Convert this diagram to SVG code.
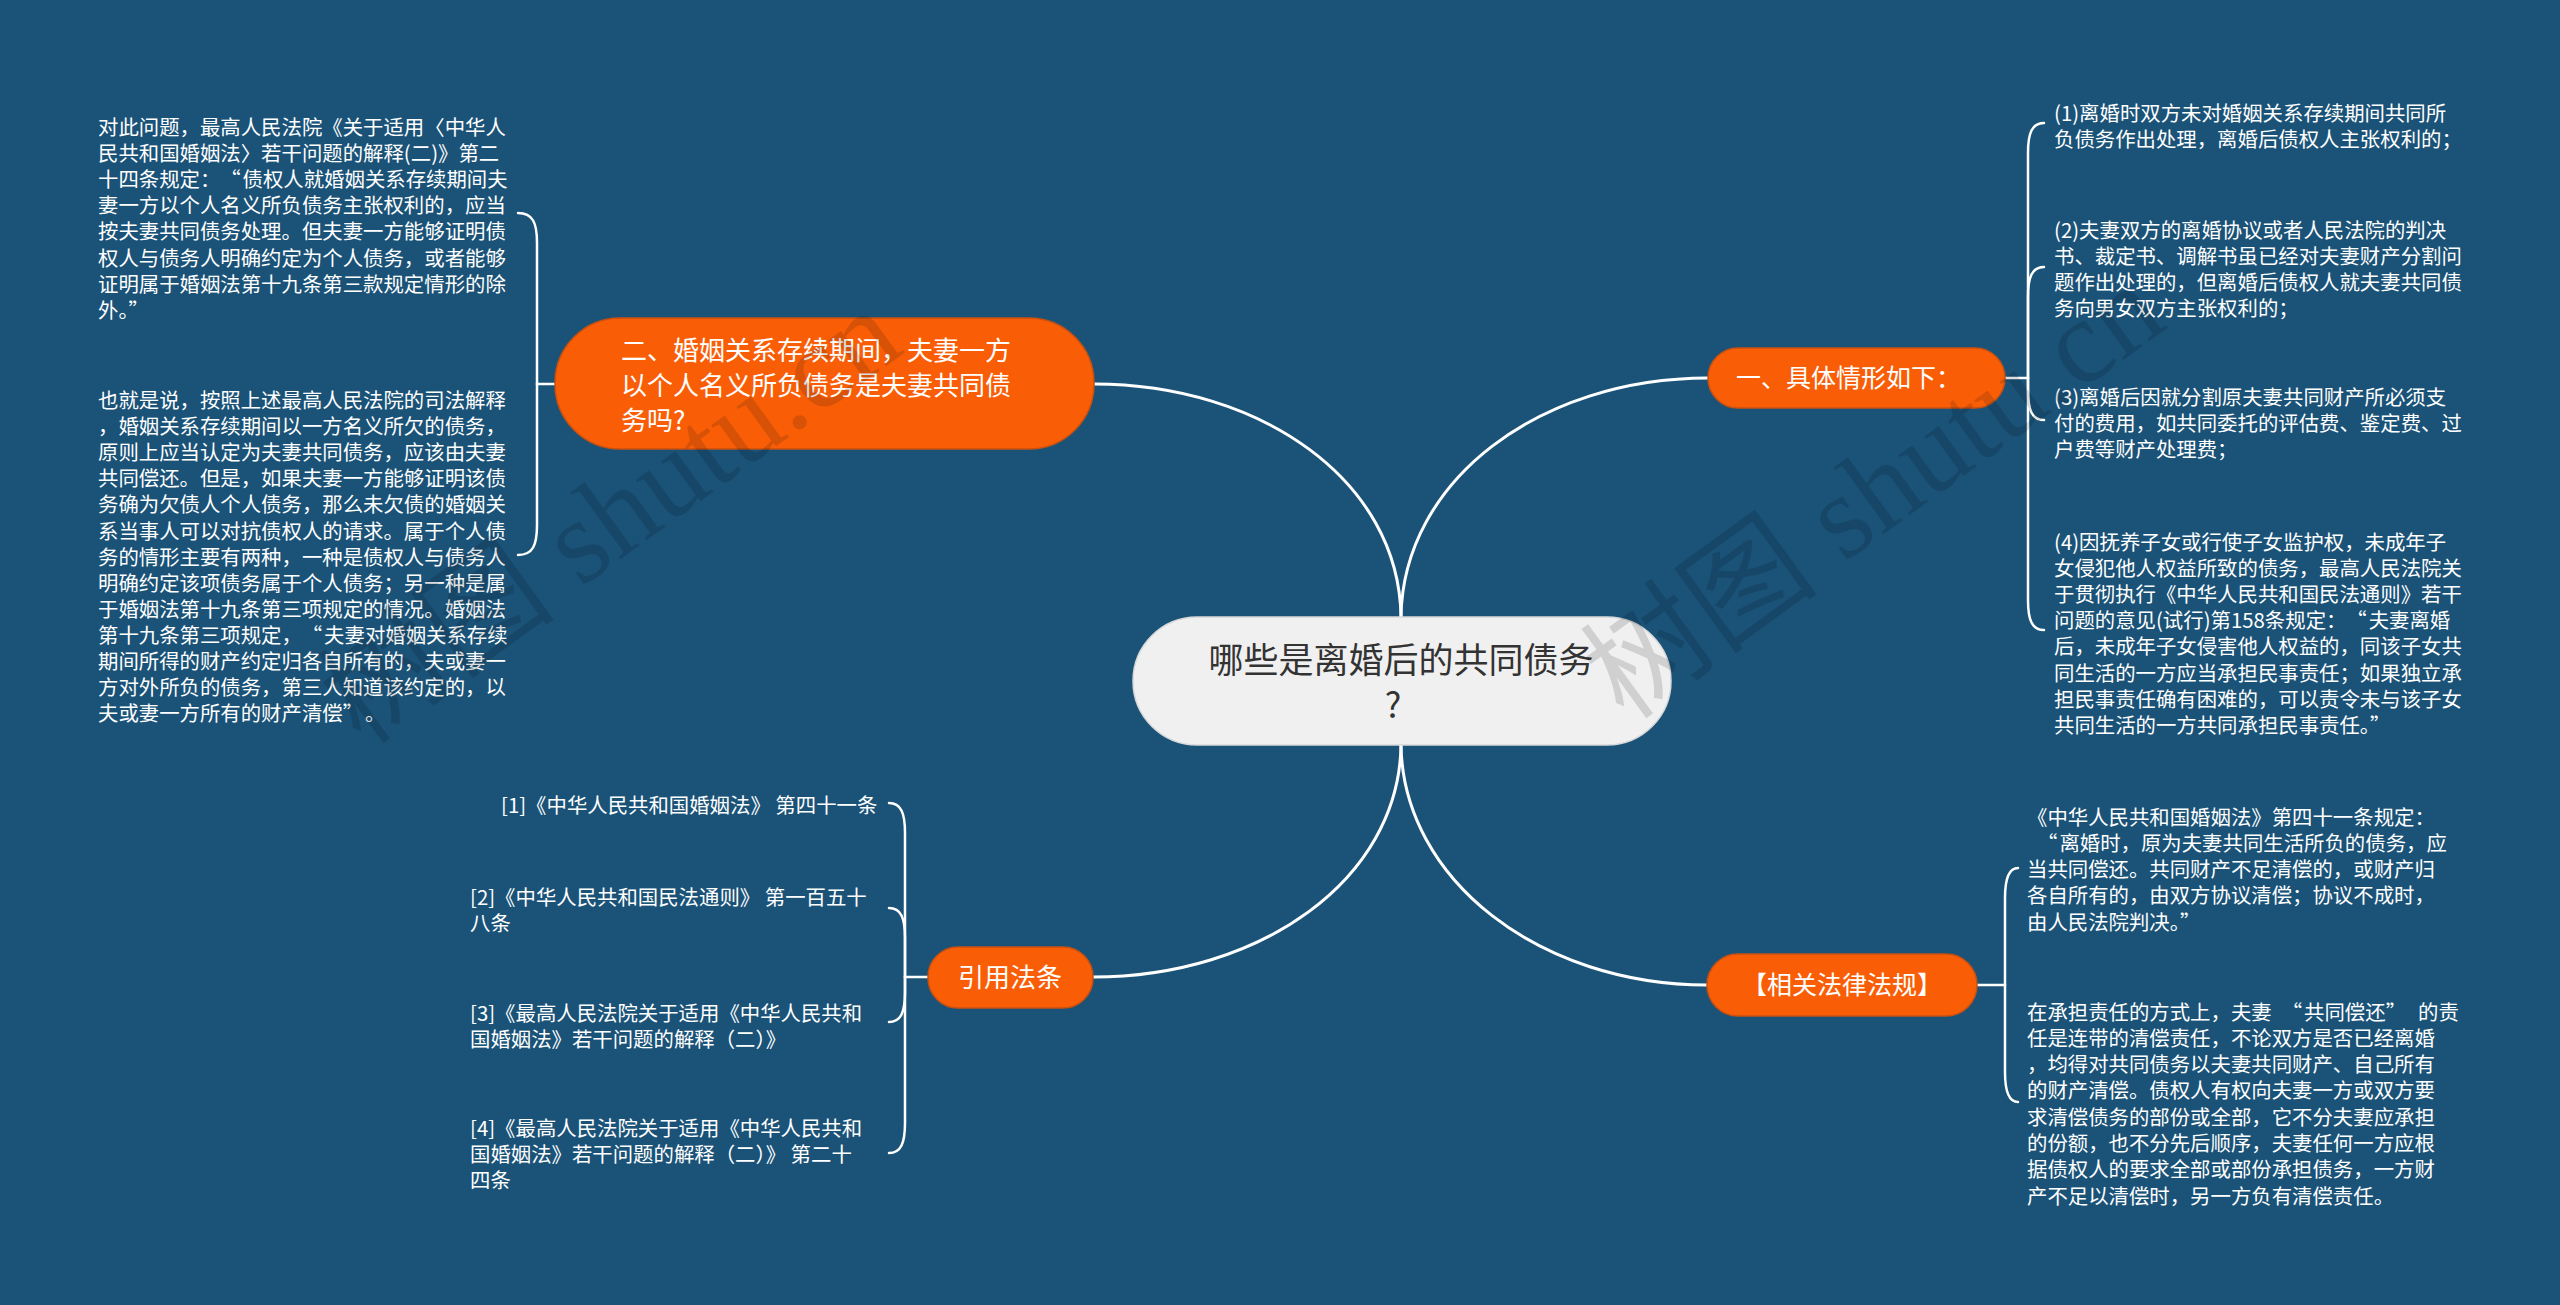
<svg xmlns="http://www.w3.org/2000/svg" width="2560" height="1305" viewBox="0 0 2560 1305">
<style>
.bg{fill:#1b5378}
.conn{fill:none;stroke:#ffffff;stroke-width:3;stroke-linecap:round}
.brk{fill:none;stroke:#ffffff;stroke-width:2.5;stroke-linecap:round}
.orange{fill:#f95e07;stroke:#c9500f;stroke-width:1.5}
.center{fill:#f0f0f0;stroke:#d8d8d8;stroke-width:1.5}
.t{font-family:"Noto Sans CJK SC","Liberation Sans",sans-serif;fill:#ffffff;font-size:20.4px}
.bt{font-family:"Noto Sans CJK SC","Liberation Sans",sans-serif;fill:#ffffff;font-size:25px}
.ct{font-family:"Noto Sans CJK SC","Liberation Sans",sans-serif;fill:#333333;font-size:35px}
.wm{font-family:"Liberation Serif","Noto Sans CJK SC",serif;font-size:120px;fill:#000000;opacity:0.13}
</style>
<rect class="bg" x="0" y="0" width="2560" height="1305"/>

<g id="connectors">
<path class="conn" d="M 1401 617 C 1399 480, 1260 384, 1094 384"/>
<path class="conn" d="M 1401 617 C 1403 480, 1540 378, 1708 378"/>
<path class="conn" d="M 1401 745 C 1399 880, 1260 977, 1093 977"/>
<path class="conn" d="M 1401 745 C 1403 880, 1540 985, 1707 985"/>

<path class="brk" d="M 555 384 L 537 384"/>
<path class="brk" d="M 537 384 L 537 243 C 537 223, 533 213, 518 213"/>
<path class="brk" d="M 537 384 L 537 525 C 537 545, 533 555, 518 555"/>

<path class="brk" d="M 928 977 L 905 977"/>
<path class="brk" d="M 905 977 L 905 833 C 905 813, 901 803, 889 803"/>
<path class="brk" d="M 905 977 L 905 938 C 905 918, 901 908, 889 908"/>
<path class="brk" d="M 905 977 L 905 992 C 905 1012, 901 1022, 889 1022"/>
<path class="brk" d="M 905 977 L 905 1123 C 905 1143, 901 1153, 889 1153"/>

<path class="brk" d="M 2005 378 L 2028 378"/>
<path class="brk" d="M 2028 378 L 2028 153 C 2028 133, 2032 123, 2044 123"/>
<path class="brk" d="M 2028 378 L 2028 297 C 2028 277, 2032 267, 2044 267"/>
<path class="brk" d="M 2028 378 L 2028 390 C 2028 410, 2032 420, 2044 420"/>
<path class="brk" d="M 2028 378 L 2028 600 C 2028 620, 2032 630, 2044 630"/>

<path class="brk" d="M 1977 985 L 2005 985"/>
<path class="brk" d="M 2005 985 L 2005 898 C 2005 878, 2009 868, 2018 868"/>
<path class="brk" d="M 2005 985 L 2005 1072 C 2005 1092, 2009 1102, 2018 1102"/>
</g>

<g id="root">
<rect class="center" x="1133" y="617" width="538" height="128" rx="64"/>
<text class="ct" text-anchor="middle"><tspan x="1401" y="673">哪些是离婚后的共同债务</tspan><tspan x="1393" y="718">?</tspan></text>
</g>

<g id="node-marriage">
<rect class="orange" x="555" y="318" width="539" height="131" rx="65"/>
<text class="bt" style="font-size:26px"><tspan x="621" y="360">二、婚姻关系存续期间，夫妻一方</tspan><tspan x="621" y="395">以个人名义所负债务是夫妻共同债</tspan><tspan x="621" y="430">务吗?</tspan></text>
</g>

<g id="node-marriage-detail1">
<text class="t"><tspan x="98" y="134.5">对此问题，最高人民法院《关于适用〈中华人</tspan><tspan x="98" y="160.7">民共和国婚姻法〉若干问题的解释(二)》第二</tspan><tspan x="98" y="186.9">十四条规定：<tspan dx="10">“</tspan><tspan dx="2">债</tspan>权人就婚姻关系存续期间夫</tspan><tspan x="98" y="213.1">妻一方以个人名义所负债务主张权利的，应当</tspan><tspan x="98" y="239.3">按夫妻共同债务处理。但夫妻一方能够证明债</tspan><tspan x="98" y="265.5">权人与债务人明确约定为个人债务，或者能够</tspan><tspan x="98" y="291.7">证明属于婚姻法第十九条第三款规定情形的除</tspan><tspan x="98" y="317.9">外。”</tspan></text>
</g>

<g id="node-marriage-detail2">
<text class="t"><tspan x="98" y="408">也就是说，按照上述最高人民法院的司法解释</tspan><tspan x="98" y="434.1">，婚姻关系存续期间以一方名义所欠的债务，</tspan><tspan x="98" y="460.2">原则上应当认定为夫妻共同债务，应该由夫妻</tspan><tspan x="98" y="486.3">共同偿还。但是，如果夫妻一方能够证明该债</tspan><tspan x="98" y="512.4">务确为欠债人个人债务，那么未欠债的婚姻关</tspan><tspan x="98" y="538.5">系当事人可以对抗债权人的请求。属于个人债</tspan><tspan x="98" y="564.6">务的情形主要有两种，一种是债权人与债务人</tspan><tspan x="98" y="590.7">明确约定该项债务属于个人债务；另一种是属</tspan><tspan x="98" y="616.8">于婚姻法第十九条第三项规定的情况。婚姻法</tspan><tspan x="98" y="642.9">第十九条第三项规定，<tspan dx="10">“</tspan><tspan dx="2">夫</tspan>妻对婚姻关系存续</tspan><tspan x="98" y="669">期间所得的财产约定归各自所有的，夫或妻一</tspan><tspan x="98" y="695.1">方对外所负的债务，第三人知道该约定的，以</tspan><tspan x="98" y="721.2">夫或妻一方所有的财产清偿”<tspan dx="12">。</tspan></tspan></text>
</g>

<g id="node-situations">
<rect class="orange" x="1708" y="348" width="297" height="60" rx="30"/>
<text class="bt" x="1736" y="387">一、具体情形如下：</text>
</g>

<g id="node-situation-1">
<text class="t"><tspan x="2054" y="121">(1)离婚时双方未对婚姻关系存续期间共同所</tspan><tspan x="2054" y="147.2">负债务作出处理，离婚后债权人主张权利的；</tspan></text>
</g>
<g id="node-situation-2">
<text class="t"><tspan x="2054" y="238">(2)夫妻双方的离婚协议或者人民法院的判决</tspan><tspan x="2054" y="264">书、裁定书、调解书虽已经对夫妻财产分割问</tspan><tspan x="2054" y="290">题作出处理的，但离婚后债权人就夫妻共同债</tspan><tspan x="2054" y="316">务向男女双方主张权利的；</tspan></text>
</g>
<g id="node-situation-3">
<text class="t"><tspan x="2054" y="405">(3)离婚后因就分割原夫妻共同财产所必须支</tspan><tspan x="2054" y="431">付的费用，如共同委托的评估费、鉴定费、过</tspan><tspan x="2054" y="457">户费等财产处理费；</tspan></text>
</g>
<g id="node-situation-4">
<text class="t"><tspan x="2054" y="549.5">(4)因抚养子女或行使子女监护权，未成年子</tspan><tspan x="2054" y="575.7">女侵犯他人权益所致的债务，最高人民法院关</tspan><tspan x="2054" y="601.9">于贯彻执行《中华人民共和国民法通则》若干</tspan><tspan x="2054" y="628.1">问题的意见(试行)第158条规定：<tspan dx="10">“</tspan><tspan dx="2">夫</tspan>妻离婚</tspan><tspan x="2054" y="654.3">后，未成年子女侵害他人权益的，同该子女共</tspan><tspan x="2054" y="680.5">同生活的一方应当承担民事责任；如果独立承</tspan><tspan x="2054" y="706.7">担民事责任确有困难的，可以责令未与该子女</tspan><tspan x="2054" y="732.9">共同生活的一方共同承担民事责任。”</tspan></text>
</g>

<g id="node-laws">
<rect class="orange" x="1707" y="954" width="270" height="62" rx="31"/>
<text class="bt" x="1842" y="994" text-anchor="middle">【相关法律法规】</text>
</g>
<g id="node-law-1">
<text class="t"><tspan x="2027" y="824.5">《中华人民共和国婚姻法》第四十一条规定：</tspan><tspan x="2037" y="850.8">“<tspan dx="2">离</tspan>婚时，原为夫妻共同生活所负的债务，应</tspan><tspan x="2027" y="877.1">当共同偿还。共同财产不足清偿的，或财产归</tspan><tspan x="2027" y="903.4">各自所有的，由双方协议清偿；协议不成时，</tspan><tspan x="2027" y="929.7">由人民法院判决。”</tspan></text>
</g>
<g id="node-law-2">
<text class="t"><tspan x="2027" y="1019.5">在承担责任的方式上，夫妻<tspan dx="10">“</tspan><tspan dx="2">共</tspan>同偿还”<tspan dx="12">的</tspan>责</tspan><tspan x="2027" y="1045.8">任是连带的清偿责任，不论双方是否已经离婚</tspan><tspan x="2027" y="1072.1">，均得对共同债务以夫妻共同财产、自己所有</tspan><tspan x="2027" y="1098.4">的财产清偿。债权人有权向夫妻一方或双方要</tspan><tspan x="2027" y="1124.7">求清偿债务的部份或全部，它不分夫妻应承担</tspan><tspan x="2027" y="1151">的份额，也不分先后顺序，夫妻任何一方应根</tspan><tspan x="2027" y="1177.3">据债权人的要求全部或部份承担债务，一方财</tspan><tspan x="2027" y="1203.6">产不足以清偿时，另一方负有清偿责任。</tspan></text>
</g>

<g id="node-refs">
<rect class="orange" x="928" y="947" width="165" height="61" rx="30"/>
<text class="bt" x="1010" y="987" text-anchor="middle" style="font-size:26px">引用法条</text>
</g>
<g id="node-ref-1">
<text class="t" x="501" y="813">[1]《中华人民共和国婚姻法》 第四十一条</text>
</g>
<g id="node-ref-2">
<text class="t"><tspan x="470" y="905">[2]《中华人民共和国民法通则》 第一百五十</tspan><tspan x="470" y="931">八条</tspan></text>
</g>
<g id="node-ref-3">
<text class="t"><tspan x="470" y="1021">[3]《最高人民法院关于适用《中华人民共和</tspan><tspan x="470" y="1047">国婚姻法》若干问题的解释（二）》</tspan></text>
</g>
<g id="node-ref-4">
<text class="t"><tspan x="470" y="1136">[4]《最高人民法院关于适用《中华人民共和</tspan><tspan x="470" y="1162">国婚姻法》若干问题的解释（二）》 第二十</tspan><tspan x="470" y="1188">四条</tspan></text>
</g>

<g id="watermarks">
<text class="wm" transform="translate(362 747) rotate(-36)">树图 shutu.cn</text>
<text class="wm" transform="translate(1625 722) rotate(-36)">树图 shutu.cn</text>
</g>
</svg>
